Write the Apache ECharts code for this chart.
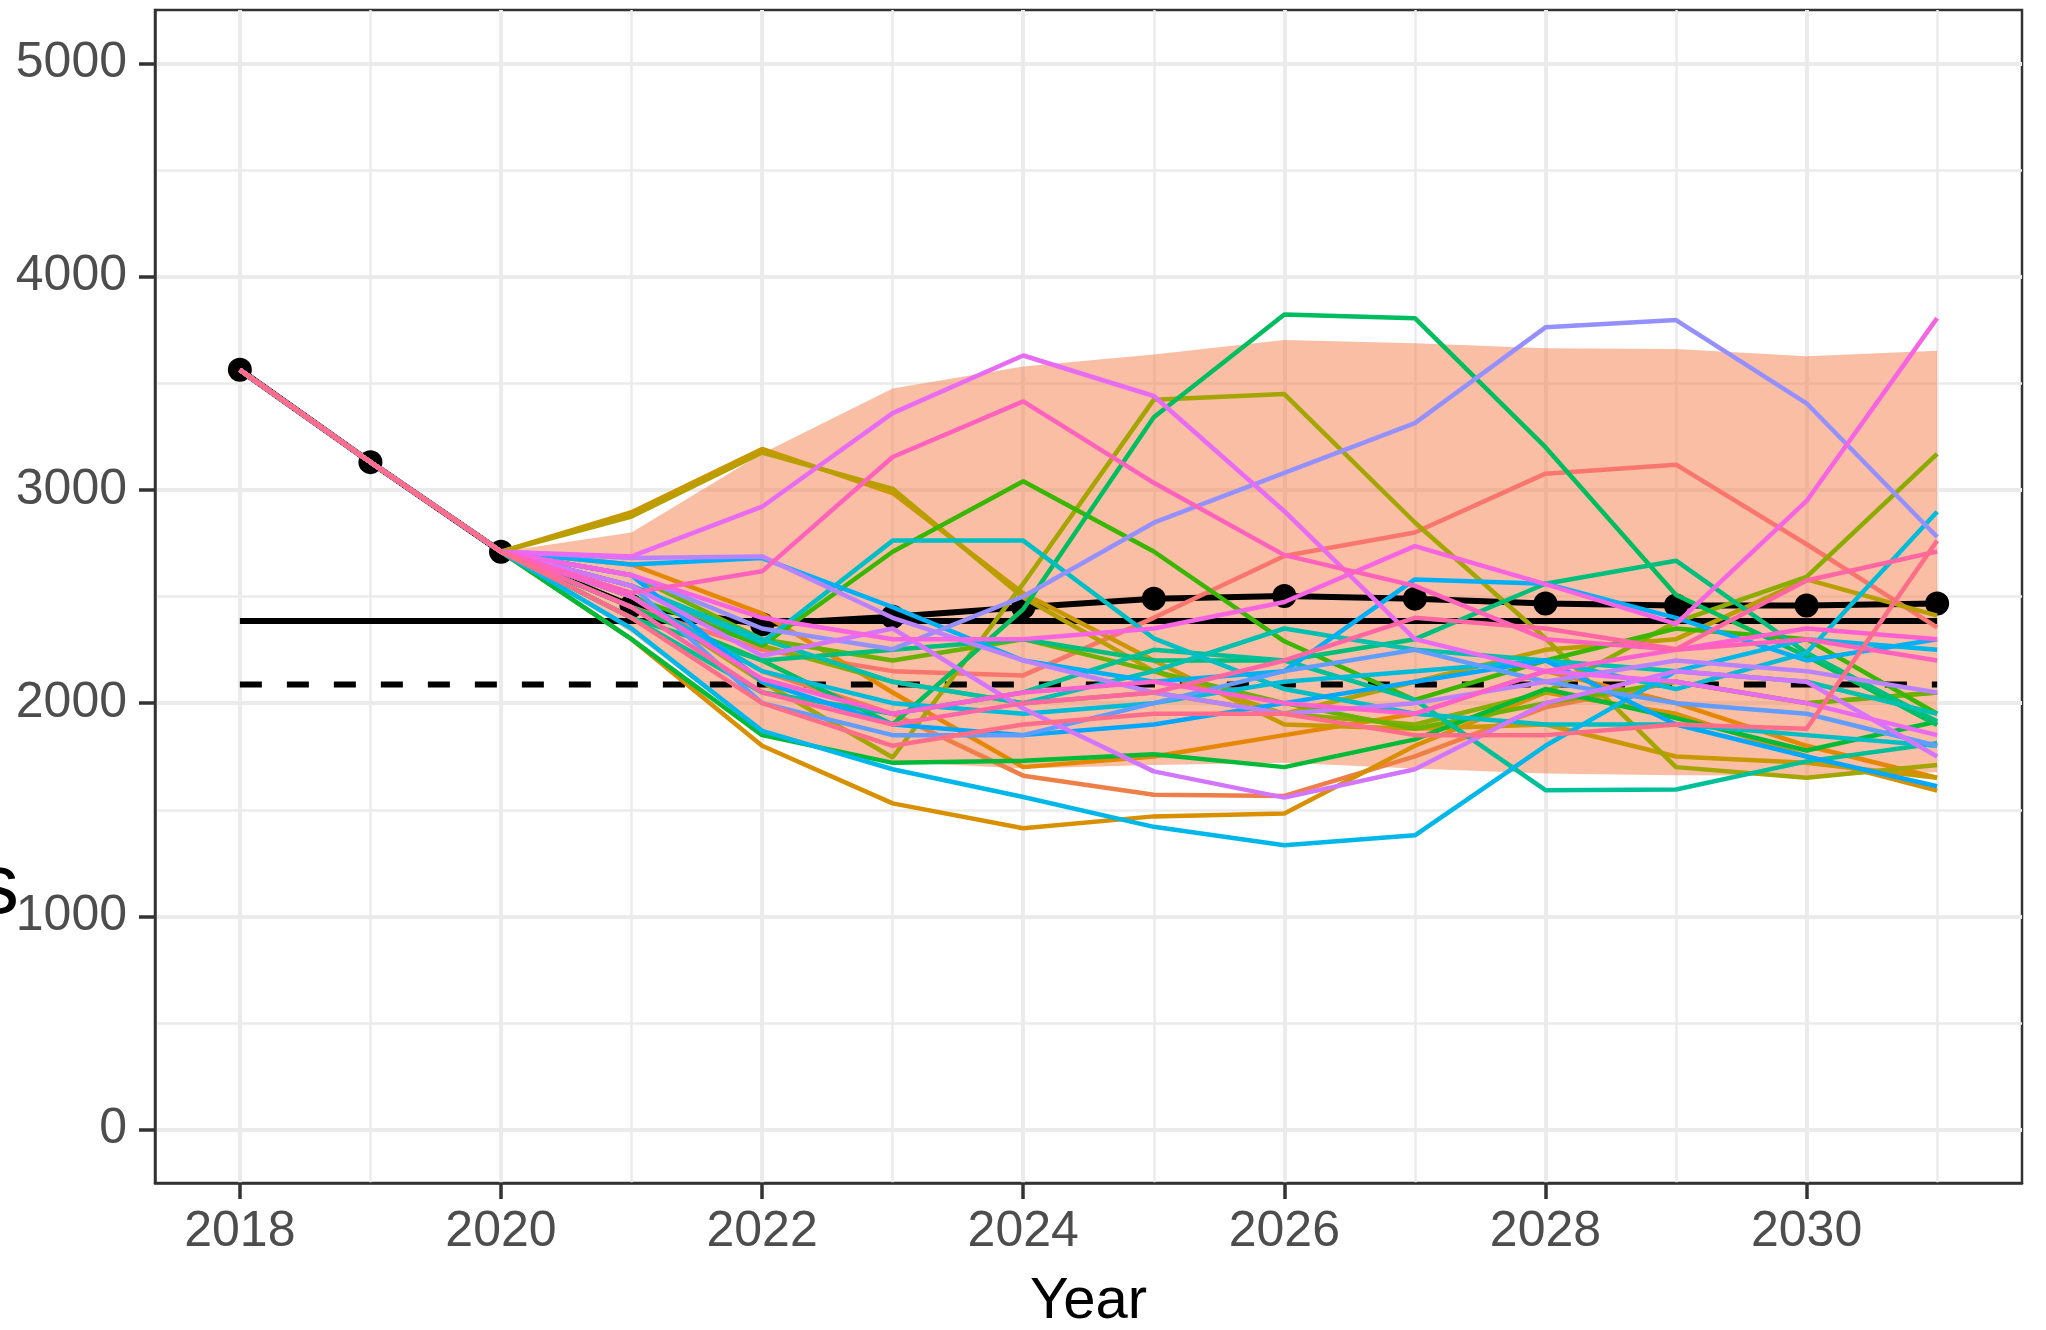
<!DOCTYPE html>
<html><head><meta charset="utf-8">
<script src="https://cdn.jsdelivr.net/npm/echarts@6/dist/echarts.min.js"></script>
<style>html,body{margin:0;padding:0;background:#fff}#c{width:2046px;height:1330px}</style>
</head><body><div id="c"></div>
<script>
// ---------- data ----------
const years = [2018,2019,2020,2021,2022,2023,2024,2025,2026,2027,2028,2029,2030,2031];
const observed = [3563, 3130, 2710];                // 2018-2020, shared by all runs
const meanLine = [3563, 3130, 2710, 2455, 2370, 2405, 2450, 2490, 2502, 2490, 2467, 2458, 2458, 2467];
const ribbonYears = [2020,2021,2022,2023,2024,2025,2026,2027,2028,2029,2030,2031];
const ribbonUpper = [2710, 2800, 3170, 3475, 3578, 3635, 3703, 3688, 3664, 3661, 3627, 3652];
const ribbonLower = [2710, 2330, 1860, 1725, 1693, 1710, 1720, 1693, 1670, 1662, 1660, 1676];
const refSolid = 2385;
const refDashed = 2087;
const xTickLabels = [2018, 2020, 2022, 2024, 2026, 2028, 2030];
const xMinorTicks = [2019, 2021, 2023, 2025, 2027, 2029, 2031];
const yTickLabels = [0, 1000, 2000, 3000, 4000, 5000];
const yMinorTicks = [500, 1500, 2500, 3500, 4500];

// projected runs, 2021..2031
const sim00 = [2450, 2250, 2150, 2130, 2400, 2690, 2800, 3076, 3118, 2745, 2355];
const sim01 = [2500, 2150, 1950, 1660, 1570, 1565, 1750, 1980, 2100, 2000, 2050];
const sim02 = [2650, 2420, 2050, 1700, 1750, 1850, 1950, 2150, 2000, 1800, 1650];
const sim03 = [2300, 1800, 1530, 1413, 1469, 1483, 1800, 2050, 1950, 1750, 1590];
const sim04 = [2895, 3192, 2985, 2515, 2200, 1900, 1880, 1900, 1750, 1720, 1650];
const sim05 = [2875, 3175, 3005, 2495, 2150, 1950, 2100, 2250, 2300, 2580, 2410];
const sim06 = [2500, 2100, 1745, 2560, 3423, 3449, 2847, 2304, 1700, 1650, 1710];
const sim07 = [2550, 2270, 2100, 2000, 2050, 1950, 1900, 2050, 2380, 2592, 3169];
const sim08 = [2600, 2300, 2200, 2300, 2150, 2000, 1880, 2000, 2100, 2000, 2050];
const sim09 = [2500, 2270, 2710, 3040, 2711, 2290, 2015, 2200, 2350, 2300, 1950];
const sim10 = [2300, 1850, 1720, 1730, 1760, 1700, 1830, 2066, 1930, 1778, 1914];
const sim11 = [2450, 2200, 1900, 2440, 3340, 3822, 3805, 3200, 2507, 2220, 1897];
const sim12 = [2400, 2200, 2250, 2300, 2200, 2200, 2300, 2560, 2668, 2236, 1914];
const sim13 = [2400, 2050, 1950, 2050, 2250, 2200, 2015, 1592, 1595, 1727, 1812];
const sim14 = [2550, 2300, 2100, 2000, 2150, 2350, 2250, 2200, 2150, 2100, 1950];
const sim15 = [2550, 2284, 2762, 2762, 2304, 2066, 1950, 1900, 1900, 1850, 1800];
const sim16 = [2500, 2150, 2000, 1950, 2000, 2100, 2150, 2200, 2066, 2236, 2897];
const sim17 = [2350, 1870, 1690, 1560, 1420, 1334, 1380, 1800, 2150, 2300, 2250];
const sim18 = [2650, 2680, 2450, 2200, 2100, 2150, 2580, 2560, 2400, 2200, 2300];
const sim19 = [2600, 2100, 1900, 1850, 1900, 2000, 2100, 2200, 1900, 1750, 1610];
const sim20 = [2550, 2000, 1850, 1850, 2000, 2150, 2250, 2100, 2000, 1950, 1800];
const sim21 = [2600, 2350, 2253, 2500, 2846, 3080, 3313, 3762, 3796, 3406, 2779];
const sim22 = [2680, 2688, 2400, 2200, 2050, 1950, 2000, 2100, 2200, 2150, 2050];
const sim23 = [2550, 2222, 2350, 1975, 1680, 1557, 1690, 2000, 2150, 2100, 1750];
const sim24 = [2688, 2921, 3360, 3630, 3440, 2900, 2300, 2150, 2100, 2000, 1850];
const sim25 = [2600, 2400, 2300, 2300, 2350, 2474, 2736, 2558, 2372, 2948, 3805];
const sim26 = [2500, 2113, 1950, 2050, 2100, 2000, 1950, 2150, 2250, 2350, 2300];
const sim27 = [2517, 2618, 3154, 3415, 3033, 2694, 2550, 2300, 2250, 2300, 2200];
const sim28 = [2450, 2050, 1900, 2000, 2050, 2200, 2400, 2350, 2253, 2575, 2711];
const sim29 = [2400, 2000, 1800, 1900, 1950, 1950, 1850, 1850, 1900, 1880, 2762];
const sims = [sim00,sim01,sim02,sim03,sim04,sim05,sim06,sim07,sim08,sim09,sim10,sim11,sim12,sim13,sim14,
              sim15,sim16,sim17,sim18,sim19,sim20,sim21,sim22,sim23,sim24,sim25,sim26,sim27,sim28,sim29];

// ---------- ggplot-like hue palette ----------
function hcl2hex(h, c, l) {
  const hr = h * Math.PI / 180;
  const U = c * Math.cos(hr), V = c * Math.sin(hr);
  const Xn = 95.047, Yn = 100.0, Zn = 108.883;
  const den = Xn + 15 * Yn + 3 * Zn;
  const un = 4 * Xn / den, vn = 9 * Yn / den;
  const Y = l > 8 ? Yn * Math.pow((l + 16) / 116, 3) : Yn * l / 903.3;
  const u = U / (13 * l) + un, v = V / (13 * l) + vn;
  const X = 9 * Y * u / (4 * v);
  const Z = -X / 3 - 5 * Y + 3 * Y / v;
  const x = X / 100, y = Y / 100, z = Z / 100;
  let r = 3.240479 * x - 1.537150 * y - 0.498535 * z;
  let g = -0.969256 * x + 1.875992 * y + 0.041556 * z;
  let b = 0.055648 * x - 0.204043 * y + 1.057311 * z;
  const gam = t => { t = t <= 0.0031308 ? 12.92 * t : 1.055 * Math.pow(t, 1 / 2.4) - 0.055; return Math.round(Math.max(0, Math.min(1, t)) * 255); };
  return '#' + [gam(r), gam(g), gam(b)].map(q => q.toString(16).padStart(2, '0')).join('');
}
const N = sims.length;
const palette = sims.map((_, i) => hcl2hex(15 + 360 * i / N, 100, 65));

const FONT = '"Liberation Sans", Arial, Helvetica, sans-serif';
const xMin = 2017.35, xMax = 2031.65, yMin = -250, yMax = 5250;
const plain = v => String(Math.round(v));

const series = [];
// ribbon
series.push({
  type: 'custom', z: 1, silent: true,
  data: ribbonYears.map((yr, i) => [yr, ribbonLower[i], ribbonUpper[i]]),
  renderItem: function (params, api) {
    if (params.dataIndex !== 0) return null;
    const pts = [];
    for (let i = 0; i < ribbonYears.length; i++) pts.push(api.coord([ribbonYears[i], ribbonUpper[i]]));
    for (let i = ribbonYears.length - 1; i >= 0; i--) pts.push(api.coord([ribbonYears[i], ribbonLower[i]]));
    return { type: 'polygon', shape: { points: pts }, style: { fill: 'rgba(245,125,75,0.5)', stroke: null } };
  }
});
// reference lines
series.push({ type: 'line', z: 2, silent: true, symbol: 'none', data: [[years[0], refSolid], [years[years.length - 1], refSolid]],
  lineStyle: { color: '#000', width: 6 } });
series.push({ type: 'line', z: 2, silent: true, symbol: 'none', data: [[years[0], refDashed], [years[years.length - 1], refDashed]],
  lineStyle: { color: '#000', width: 6, type: [22, 25] } });
// mean with points
series.push({ type: 'line', z: 3, silent: true, symbol: 'circle', symbolSize: 24,
  data: years.map((yr, i) => [yr, meanLine[i]]),
  lineStyle: { color: '#000', width: 6 }, itemStyle: { color: '#000' } });
// runs
sims.forEach((s, k) => {
  const vals = observed.concat(s);
  series.push({ type: 'line', z: 4, silent: true, symbol: 'none',
    data: years.map((yr, i) => [yr, vals[i]]),
    lineStyle: { color: palette[k], width: 4.5 }, itemStyle: { color: palette[k] } });
});

const chart = echarts.init(document.getElementById('c'), null, { renderer: 'canvas' });
chart.setOption({
  animation: false,
  backgroundColor: '#fff',
  grid: { left: 155, right: 24, top: 10, bottom: 147, show: true, borderColor: '#333', borderWidth: 2.5,
          backgroundColor: 'transparent', containLabel: false, outerBoundsMode: 'none' },
  xAxis: [
    { type: 'value', min: xMin, max: xMax, position: 'bottom',
      axisLine: { show: true, onZero: false, lineStyle: { color: '#333', width: 2.5 } },
      axisTick: { show: true, inside: false, length: 16, lineStyle: { color: '#333', width: 3.5 }, customValues: xTickLabels },
      axisLabel: { customValues: xTickLabels, formatter: plain, fontSize: 50, color: '#4D4D4D', margin: 24, fontFamily: FONT },
      splitLine: { show: true, lineStyle: { color: '#EBEBEB', width: 4 } },
      name: 'Year', nameLocation: 'middle', nameGap: 90,
      nameTextStyle: { fontSize: 58, color: '#000', fontFamily: FONT } },
    { type: 'value', min: xMin, max: xMax, position: 'top',
      axisLine: { show: false, onZero: false },
      axisTick: { show: false, customValues: xMinorTicks },
      axisLabel: { show: false, customValues: xMinorTicks },
      splitLine: { show: true, lineStyle: { color: '#EBEBEB', width: 2.5 } } }
  ],
  yAxis: [
    { type: 'value', min: yMin, max: yMax, position: 'left',
      axisLine: { show: true, onZero: false, lineStyle: { color: '#333', width: 2.5 } },
      axisTick: { show: true, inside: false, length: 16, lineStyle: { color: '#333', width: 3.5 }, customValues: yTickLabels },
      axisLabel: { customValues: yTickLabels, formatter: plain, fontSize: 50, color: '#4D4D4D', margin: 28, fontFamily: FONT },
      splitLine: { show: true, lineStyle: { color: '#EBEBEB', width: 4 } } },
    { type: 'value', min: yMin, max: yMax, position: 'right',
      axisLine: { show: false, onZero: false },
      axisTick: { show: false, customValues: yMinorTicks },
      axisLabel: { show: false, customValues: yMinorTicks },
      splitLine: { show: true, lineStyle: { color: '#EBEBEB', width: 2.5 } } }
  ],
  graphic: [
    { type: 'text', x: 19, y: 890, silent: true,
      style: { text: 's', fill: '#000', font: '85px ' + FONT, textAlign: 'right', textVerticalAlign: 'middle' } }
  ],
  series: series
});
</script>
</body></html>
